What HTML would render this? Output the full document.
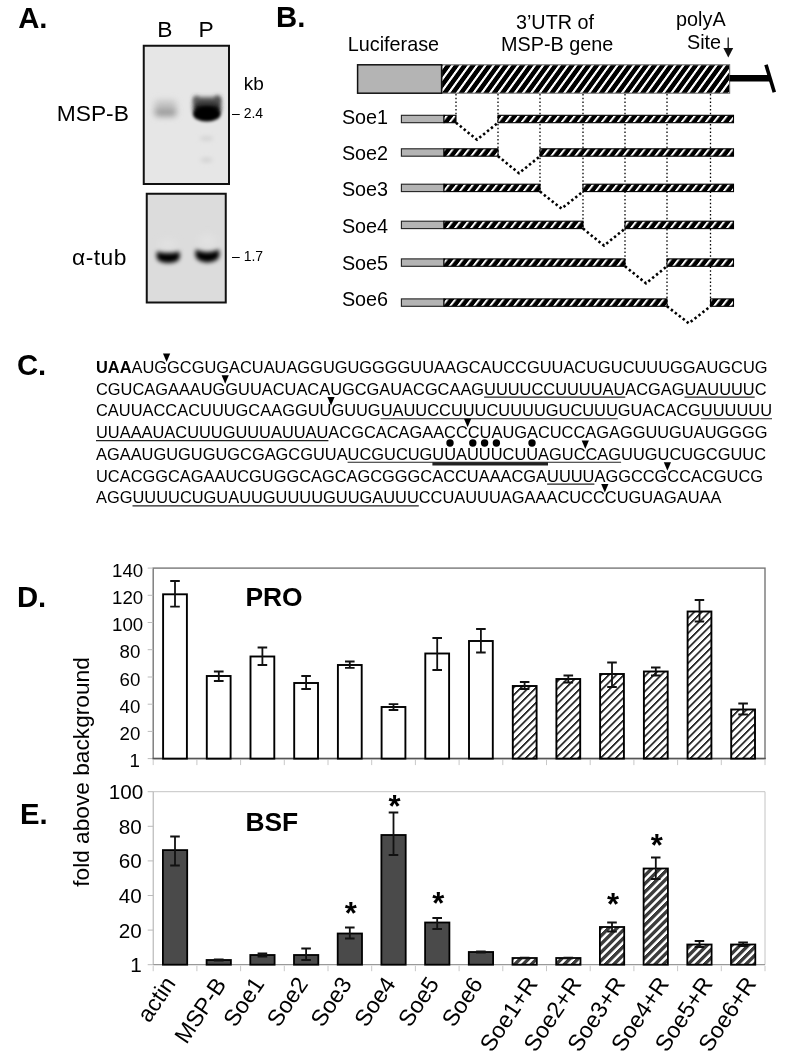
<!DOCTYPE html>
<html><head><meta charset="utf-8"><title>Figure</title>
<style>
html,body{margin:0;padding:0;background:#fff;}
svg{display:block;}
text{font-family:"Liberation Sans",sans-serif;fill:#000;}
</style></head><body>
<svg width="800" height="1058" viewBox="0 0 800 1058">
<defs>
<filter id="bl3" filterUnits="userSpaceOnUse" x="100" y="30" width="200" height="300"><feGaussianBlur stdDeviation="3"/></filter>
<filter id="bl15" filterUnits="userSpaceOnUse" x="100" y="30" width="200" height="300"><feGaussianBlur stdDeviation="1.6"/></filter>
<filter id="bl2" filterUnits="userSpaceOnUse" x="100" y="30" width="200" height="300"><feGaussianBlur stdDeviation="2.2"/></filter>
<filter id="bl5" filterUnits="userSpaceOnUse" x="100" y="30" width="200" height="300"><feGaussianBlur stdDeviation="4.5"/></filter>
<linearGradient id="gP" x1="0" y1="0" x2="0" y2="1"><stop offset="0" stop-color="#6a6a6a"/><stop offset="0.6" stop-color="#1c1c1c"/><stop offset="1" stop-color="#000"/></linearGradient>
<pattern id="hBig" width="8.25" height="40" patternUnits="userSpaceOnUse" patternTransform="translate(3.5 0) skewX(-36)">
<rect width="8.25" height="40" fill="#000"/><rect x="0" width="2.7" height="40" fill="#fff"/></pattern>
<pattern id="hSm" width="8" height="20" patternUnits="userSpaceOnUse" patternTransform="skewX(-38)">
<rect width="8" height="20" fill="#000"/><rect x="0" width="2.5" height="20" fill="#fff"/></pattern>
<pattern id="hBar" width="7.5" height="300" patternUnits="userSpaceOnUse" patternTransform="skewX(-45)">
<rect width="7.5" height="300" fill="#fff"/><rect x="0" width="2.5" height="300" fill="#2a2a2a"/></pattern>
<pattern id="hBarE" width="8.25" height="300" patternUnits="userSpaceOnUse" patternTransform="skewX(-45)">
<rect width="8.25" height="300" fill="#fff"/><rect x="0" width="4.8" height="300" fill="#3c3c3c"/></pattern>
</defs>
<rect width="800" height="1058" fill="#fff"/>

<text x="18.2" y="27.6" font-size="29.3" font-weight="bold">A.</text>
<text x="276" y="27.4" font-size="29.3" font-weight="bold">B.</text>
<text x="16.9" y="375.3" font-size="29.3" font-weight="bold">C.</text>
<text x="16.9" y="606.5" font-size="29.3" font-weight="bold">D.</text>
<text x="19.9" y="823.6" font-size="29.3" font-weight="bold">E.</text>
<g id="panelA">
<rect x="143.75" y="45.75" width="85.25" height="138.25" fill="#e6e6e6"/>
<rect x="154.5" y="100" width="22" height="10" rx="4" fill="#c6c6c6" filter="url(#bl3)"/>
<rect x="154.5" y="108" width="22" height="8.5" rx="4" fill="#9a9a9a" filter="url(#bl3)"/>
<rect x="193.4" y="97" width="27.4" height="16" rx="3" fill="url(#gP)" filter="url(#bl2)"/>
<ellipse cx="196.2" cy="99.5" rx="2.2" ry="3.6" fill="#555" filter="url(#bl2)"/>
<ellipse cx="217.6" cy="99.5" rx="2.6" ry="4" fill="#4a4a4a" filter="url(#bl2)"/>
<ellipse cx="206.8" cy="114" rx="13.8" ry="7.6" fill="#000" filter="url(#bl15)"/>
<ellipse cx="206.5" cy="138.5" rx="7" ry="2.6" fill="#d4d4d4" filter="url(#bl2)"/>
<ellipse cx="206.5" cy="160" rx="6" ry="2.6" fill="#d2d2d2" filter="url(#bl2)"/>
<rect x="143.75" y="45.75" width="85.25" height="138.25" fill="none" stroke="#111" stroke-width="2"/>
<rect x="146.75" y="193.75" width="79" height="108.75" fill="#dcdcdc"/>
<ellipse cx="168" cy="244" rx="9" ry="5" fill="#e1e1e1" filter="url(#bl3)"/>
<ellipse cx="207.5" cy="241" rx="9" ry="7" fill="#e1e1e1" filter="url(#bl3)"/>
<path d="M156.8 251.4 Q168.2 254.8 179.6 251.4 L179.8 257.4 Q178.4 262.6 168.2 263 Q158 262.6 156.6 257.4 Z" fill="#000" filter="url(#bl2)"/>
<path d="M195.6 249.6 Q207.4 254.8 219.2 249.6 L219.4 256 Q217.4 262 207.4 262.4 Q197.4 262 195.4 256 Z" fill="#000" filter="url(#bl2)"/>
<rect x="146.75" y="193.75" width="79" height="108.75" fill="none" stroke="#111" stroke-width="2"/>
<text x="157.3" y="37.4" font-size="22.8">B</text>
<text x="198.4" y="37.4" font-size="22.8">P</text>
<text x="56.7" y="121" font-size="22.8">MSP-B</text>
<text x="72" y="264.8" font-size="22.8" textLength="54.4" lengthAdjust="spacing">α-tub</text>
<text x="243.8" y="90.4" font-size="19">kb</text>
<text x="232" y="118" font-size="14">– 2.4</text>
<text x="232" y="261" font-size="14">– 1.7</text>
</g>
<g id="panelB">
<text x="347.8" y="50.7" font-size="19.8">Luciferase</text>
<text x="555" y="29" font-size="19.8" text-anchor="middle">3’UTR of</text>
<text x="557.2" y="51.2" font-size="19.8" text-anchor="middle">MSP-B gene</text>
<text x="676.1" y="26.4" font-size="19.8">polyA</text>
<text x="687" y="49" font-size="19.8">Site</text>
<path d="M728.2 37.4 V50" stroke="#111" stroke-width="1.3" fill="none"/><path d="M723.4 47.9 L728.3 57.6 L733.2 47.9 Z" fill="#111"/>
<rect x="441.6" y="64.8" width="288" height="28.4" fill="url(#hBig)" stroke="#777" stroke-width="1.2"/>
<rect x="357.6" y="64.8" width="84" height="28.4" fill="#b4b4b4" stroke="#111" stroke-width="1.5"/>
<path d="M729.5 78.3 H770" stroke="#000" stroke-width="6.6"/>
<path d="M766 64.8 L774.3 92.2" stroke="#000" stroke-width="3.6"/>
<path d="M456 94 V115.3" stroke="#000" stroke-width="1.3" stroke-dasharray="1.5 2.25" fill="none"/>
<path d="M498 94 V156.2" stroke="#000" stroke-width="1.3" stroke-dasharray="1.5 2.25" fill="none"/>
<path d="M540 94 V191.6" stroke="#000" stroke-width="1.3" stroke-dasharray="1.5 2.25" fill="none"/>
<path d="M583 94 V228.6" stroke="#000" stroke-width="1.3" stroke-dasharray="1.5 2.25" fill="none"/>
<path d="M625 94 V266.3" stroke="#000" stroke-width="1.3" stroke-dasharray="1.5 2.25" fill="none"/>
<path d="M667 94 V306.3" stroke="#000" stroke-width="1.3" stroke-dasharray="1.5 2.25" fill="none"/>
<path d="M710.5 94 V306.3" stroke="#000" stroke-width="1.3" stroke-dasharray="1.5 2.25" fill="none"/>
<text x="341.9" y="123.7" font-size="19.8">Soe1</text>
<rect x="401.4" y="115.3" width="42.6" height="7.4" fill="#b4b4b4" stroke="#222" stroke-width="1.1"/>
<rect x="444" y="115.3" width="12.0" height="7.4" fill="url(#hSm)" stroke="#000" stroke-width="1.1"/>
<rect x="498" y="115.3" width="235.5" height="7.4" fill="url(#hSm)" stroke="#000" stroke-width="1.1"/>
<path d="M456 122.7 L477.0 139.7 L498 122.7" stroke="#000" stroke-width="2.6" stroke-dasharray="2.4 2.6" fill="none"/>
<text x="341.9" y="159.7" font-size="19.8">Soe2</text>
<rect x="401.4" y="148.8" width="42.6" height="7.4" fill="#b4b4b4" stroke="#222" stroke-width="1.1"/>
<rect x="444" y="148.8" width="54.0" height="7.4" fill="url(#hSm)" stroke="#000" stroke-width="1.1"/>
<rect x="540" y="148.8" width="193.5" height="7.4" fill="url(#hSm)" stroke="#000" stroke-width="1.1"/>
<path d="M498 156.2 L519.0 173.2 L540 156.2" stroke="#000" stroke-width="2.6" stroke-dasharray="2.4 2.6" fill="none"/>
<text x="341.9" y="196" font-size="19.8">Soe3</text>
<rect x="401.4" y="184.2" width="42.6" height="7.4" fill="#b4b4b4" stroke="#222" stroke-width="1.1"/>
<rect x="444" y="184.2" width="96.0" height="7.4" fill="url(#hSm)" stroke="#000" stroke-width="1.1"/>
<rect x="583" y="184.2" width="150.5" height="7.4" fill="url(#hSm)" stroke="#000" stroke-width="1.1"/>
<path d="M540 191.6 L561.5 208.6 L583 191.6" stroke="#000" stroke-width="2.6" stroke-dasharray="2.4 2.6" fill="none"/>
<text x="341.9" y="233.2" font-size="19.8">Soe4</text>
<rect x="401.4" y="221.2" width="42.6" height="7.4" fill="#b4b4b4" stroke="#222" stroke-width="1.1"/>
<rect x="444" y="221.2" width="139.0" height="7.4" fill="url(#hSm)" stroke="#000" stroke-width="1.1"/>
<rect x="625" y="221.2" width="108.5" height="7.4" fill="url(#hSm)" stroke="#000" stroke-width="1.1"/>
<path d="M583 228.6 L604.0 245.6 L625 228.6" stroke="#000" stroke-width="2.6" stroke-dasharray="2.4 2.6" fill="none"/>
<text x="341.9" y="269.7" font-size="19.8">Soe5</text>
<rect x="401.4" y="258.9" width="42.6" height="7.4" fill="#b4b4b4" stroke="#222" stroke-width="1.1"/>
<rect x="444" y="258.9" width="181.0" height="7.4" fill="url(#hSm)" stroke="#000" stroke-width="1.1"/>
<rect x="667" y="258.9" width="66.5" height="7.4" fill="url(#hSm)" stroke="#000" stroke-width="1.1"/>
<path d="M625 266.3 L646.0 283.3 L667 266.3" stroke="#000" stroke-width="2.6" stroke-dasharray="2.4 2.6" fill="none"/>
<text x="341.9" y="306.2" font-size="19.8">Soe6</text>
<rect x="401.4" y="298.9" width="42.6" height="7.4" fill="#b4b4b4" stroke="#222" stroke-width="1.1"/>
<rect x="444" y="298.9" width="223.0" height="7.4" fill="url(#hSm)" stroke="#000" stroke-width="1.1"/>
<rect x="710.5" y="298.9" width="23.0" height="7.4" fill="url(#hSm)" stroke="#000" stroke-width="1.1"/>
<path d="M667 306.3 L688.8 323.3 L710.5 306.3" stroke="#000" stroke-width="2.6" stroke-dasharray="2.4 2.6" fill="none"/>
</g>
<g id="panelC" font-size="16.4">
<text id="seq1" x="96" y="372.7" textLength="671.5" lengthAdjust="spacing"><tspan font-weight="bold">UAA</tspan>AUGGCGUGACUAUAGGUGUGGGGUUAAGCAUCCGUUACUGUCUUUGGAUGCUG</text>
<text id="seq2" x="96" y="394.5" textLength="670.5" lengthAdjust="spacing">CGUCAGAAAUGGUUACUACAUGCGAUACGCAAGUUUUCCUUUUAUACGAGUAUUUUC</text>
<text id="seq3" x="96" y="416.2" textLength="676" lengthAdjust="spacing">CAUUACCACUUUGCAAGGUUGUUGUAUUCCUUUCUUUUGUCUUUGUACACGUUUUUU</text>
<text id="seq4" x="96" y="438.0" textLength="671.5" lengthAdjust="spacing">UUAAAUACUUUGUUUAUUAUACGCACAGAACCCUAUGACUCCAGAGGUUGUAUGGGG</text>
<text id="seq5" x="96" y="459.7" textLength="670" lengthAdjust="spacing">AGAAUGUGUGUGCGAGCGUUAUCGUCUGUUAUUUCUUAGUCCAGUUGUCUGCGUUC</text>
<text id="seq6" x="96" y="481.5" textLength="667" lengthAdjust="spacing">UCACGGCAGAAUCGUGGCAGCAGCGGGCACCUAAACGAUUUUAGGCCGCCACGUCG</text>
<text id="seq7" x="96" y="503.3" textLength="625.5" lengthAdjust="spacing">AGGUUUUCUGUAUUGUUUUGUUGAUUUCCUAUUUAGAAACUCCCUGUAGAUAA</text>
<path d="M484.1 397.1 H625.3" stroke="#222" stroke-width="1.1" fill="none"/>
<path d="M684.5 397.1 H754.7" stroke="#222" stroke-width="1.1" fill="none"/>
<path d="M380.6 418.8 H617.8" stroke="#222" stroke-width="1.1" fill="none"/>
<path d="M700.9 418.8 H772" stroke="#222" stroke-width="1.1" fill="none"/>
<path d="M96 440.6 H328.4" stroke="#222" stroke-width="1.1" fill="none"/>
<path d="M347.6 462.3 H621.1" stroke="#222" stroke-width="1.1" fill="none"/>
<path d="M432.4 463.9 H548" stroke="#222" stroke-width="3.4" fill="none"/>
<path d="M547.1 484.1 H594.4" stroke="#222" stroke-width="1.1" fill="none"/>
<path d="M132.5 505.9 H418.8" stroke="#222" stroke-width="1.1" fill="none"/>
<path d="M163.0 353.5 H170.2 L166.6 361.9 Z" fill="#000"/>
<path d="M221.6 375.3 H228.8 L225.2 383.7 Z" fill="#000"/>
<path d="M327.4 397.0 H334.6 L331 405.4 Z" fill="#000"/>
<path d="M464.0 418.8 H471.2 L467.6 427.2 Z" fill="#000"/>
<path d="M581.7 440.5 H588.9 L585.3 448.9 Z" fill="#000"/>
<path d="M663.8 462.3 H671.0 L667.4 470.7 Z" fill="#000"/>
<path d="M601.2 484.1 H608.4 L604.8 492.5 Z" fill="#000"/>
<circle cx="450" cy="443" r="3.7" fill="#000"/>
<circle cx="472.8" cy="443" r="3.7" fill="#000"/>
<circle cx="484.6" cy="443" r="3.7" fill="#000"/>
<circle cx="496.4" cy="443" r="3.7" fill="#000"/>
<circle cx="532" cy="443" r="3.7" fill="#000"/>
</g>
<g id="chartD">
<rect x="153.2" y="568.1" width="611.8" height="190.5" fill="#fff" stroke="#777" stroke-width="1.4"/>
<path d="M147.7 568.1 H153.2" stroke="#bbb" stroke-width="1"/>
<text x="143.2" y="576.7" font-size="18.7" text-anchor="end">140</text>
<path d="M147.7 595.3 H153.2" stroke="#bbb" stroke-width="1"/>
<text x="143.2" y="603.9" font-size="18.7" text-anchor="end">120</text>
<path d="M147.7 622.5 H153.2" stroke="#bbb" stroke-width="1"/>
<text x="143.2" y="631.1" font-size="18.7" text-anchor="end">100</text>
<path d="M147.7 649.7 H153.2" stroke="#bbb" stroke-width="1"/>
<text x="140.4" y="658.3" font-size="18.7" text-anchor="end">80</text>
<path d="M147.7 677.0 H153.2" stroke="#bbb" stroke-width="1"/>
<text x="140.4" y="685.6" font-size="18.7" text-anchor="end">60</text>
<path d="M147.7 704.2 H153.2" stroke="#bbb" stroke-width="1"/>
<text x="140.4" y="712.8" font-size="18.7" text-anchor="end">40</text>
<path d="M147.7 731.4 H153.2" stroke="#bbb" stroke-width="1"/>
<text x="140.4" y="740.0" font-size="18.7" text-anchor="end">20</text>
<path d="M147.7 758.6 H153.2" stroke="#bbb" stroke-width="1"/>
<text x="139.8" y="767.2" font-size="18.7" text-anchor="end">1</text>
<path d="M153.2 759.6 V765.1" stroke="#c8c8c8" stroke-width="1"/>
<path d="M196.9 759.6 V765.1" stroke="#c8c8c8" stroke-width="1"/>
<path d="M240.6 759.6 V765.1" stroke="#c8c8c8" stroke-width="1"/>
<path d="M284.3 759.6 V765.1" stroke="#c8c8c8" stroke-width="1"/>
<path d="M328.0 759.6 V765.1" stroke="#c8c8c8" stroke-width="1"/>
<path d="M371.7 759.6 V765.1" stroke="#c8c8c8" stroke-width="1"/>
<path d="M415.4 759.6 V765.1" stroke="#c8c8c8" stroke-width="1"/>
<path d="M459.1 759.6 V765.1" stroke="#c8c8c8" stroke-width="1"/>
<path d="M502.8 759.6 V765.1" stroke="#c8c8c8" stroke-width="1"/>
<path d="M546.5 759.6 V765.1" stroke="#c8c8c8" stroke-width="1"/>
<path d="M590.2 759.6 V765.1" stroke="#c8c8c8" stroke-width="1"/>
<path d="M633.9 759.6 V765.1" stroke="#c8c8c8" stroke-width="1"/>
<path d="M677.6 759.6 V765.1" stroke="#c8c8c8" stroke-width="1"/>
<path d="M721.3 759.6 V765.1" stroke="#c8c8c8" stroke-width="1"/>
<path d="M765.0 759.6 V765.1" stroke="#c8c8c8" stroke-width="1"/>
<path d="M152.5 758.6 H765.7" stroke="#555" stroke-width="1.5"/>
<rect x="163.1" y="594.3" width="23.8" height="164.3" fill="#fff" stroke="#000" stroke-width="1.9"/>
<path d="M175.0 581.0 V606.7 M170.2 581.0 H179.8 M170.2 606.7 H179.8" stroke="#111" stroke-width="1.8" fill="none"/>
<rect x="206.8" y="676" width="23.8" height="82.6" fill="#fff" stroke="#000" stroke-width="1.9"/>
<path d="M218.8 671.5 V681.0 M213.9 671.5 H223.6 M213.9 681.0 H223.6" stroke="#111" stroke-width="1.8" fill="none"/>
<rect x="250.5" y="656.5" width="23.8" height="102.1" fill="#fff" stroke="#000" stroke-width="1.9"/>
<path d="M262.4 647.5 V665.0 M257.6 647.5 H267.2 M257.6 665.0 H267.2" stroke="#111" stroke-width="1.8" fill="none"/>
<rect x="294.2" y="683" width="23.8" height="75.6" fill="#fff" stroke="#000" stroke-width="1.9"/>
<path d="M306.1 676.0 V689.0 M301.3 676.0 H310.9 M301.3 689.0 H310.9" stroke="#111" stroke-width="1.8" fill="none"/>
<rect x="337.9" y="665" width="23.8" height="93.6" fill="#fff" stroke="#000" stroke-width="1.9"/>
<path d="M349.8 661.5 V667.8 M345.0 661.5 H354.6 M345.0 667.8 H354.6" stroke="#111" stroke-width="1.8" fill="none"/>
<rect x="381.6" y="707" width="23.8" height="51.6" fill="#fff" stroke="#000" stroke-width="1.9"/>
<path d="M393.5 704.2 V710.0 M388.7 704.2 H398.3 M388.7 710.0 H398.3" stroke="#111" stroke-width="1.8" fill="none"/>
<rect x="425.3" y="653.5" width="23.8" height="105.1" fill="#fff" stroke="#000" stroke-width="1.9"/>
<path d="M437.2 638.0 V670.0 M432.4 638.0 H442.0 M432.4 670.0 H442.0" stroke="#111" stroke-width="1.8" fill="none"/>
<rect x="469.0" y="641" width="23.8" height="117.6" fill="#fff" stroke="#000" stroke-width="1.9"/>
<path d="M480.9 629.0 V652.5 M476.1 629.0 H485.7 M476.1 652.5 H485.7" stroke="#111" stroke-width="1.8" fill="none"/>
<rect x="512.8" y="686" width="23.8" height="72.6" fill="url(#hBar)" stroke="#000" stroke-width="1.9"/>
<path d="M524.6 682.0 V689.0 M519.9 682.0 H529.4 M519.9 689.0 H529.4" stroke="#111" stroke-width="1.8" fill="none"/>
<rect x="556.4" y="679" width="23.8" height="79.6" fill="url(#hBar)" stroke="#000" stroke-width="1.9"/>
<path d="M568.3 675.5 V682.5 M563.5 675.5 H573.1 M563.5 682.5 H573.1" stroke="#111" stroke-width="1.8" fill="none"/>
<rect x="600.1" y="674" width="23.8" height="84.6" fill="url(#hBar)" stroke="#000" stroke-width="1.9"/>
<path d="M612.0 662.5 V687.0 M607.2 662.5 H616.8 M607.2 687.0 H616.8" stroke="#111" stroke-width="1.8" fill="none"/>
<rect x="643.9" y="671.5" width="23.8" height="87.1" fill="url(#hBar)" stroke="#000" stroke-width="1.9"/>
<path d="M655.8 667.5 V675.5 M651.0 667.5 H660.5 M651.0 675.5 H660.5" stroke="#111" stroke-width="1.8" fill="none"/>
<rect x="687.6" y="611.5" width="23.8" height="147.1" fill="url(#hBar)" stroke="#000" stroke-width="1.9"/>
<path d="M699.5 600.0 V621.5 M694.7 600.0 H704.2 M694.7 621.5 H704.2" stroke="#111" stroke-width="1.8" fill="none"/>
<rect x="731.2" y="709.5" width="23.8" height="49.1" fill="url(#hBar)" stroke="#000" stroke-width="1.9"/>
<path d="M743.1 703.5 V714.5 M738.3 703.5 H747.9 M738.3 714.5 H747.9" stroke="#111" stroke-width="1.8" fill="none"/>
<text x="245.4" y="606.2" font-size="26.4" font-weight="bold">PRO</text>
</g>
<g id="chartE">
<path d="M153.2 791.7 H765 V964.7" fill="none" stroke="#c4c4c4" stroke-width="1"/>
<path d="M153.2 791.7 V964.7" fill="none" stroke="#aaa" stroke-width="1"/>
<path d="M153.2 964.7 H765" fill="none" stroke="#999" stroke-width="1.2"/>
<path d="M147.7 791.7 H153.2" stroke="#bbb" stroke-width="1"/>
<text x="143.3" y="799.2" font-size="20.7" text-anchor="end">100</text>
<path d="M147.7 826.3 H153.2" stroke="#bbb" stroke-width="1"/>
<text x="141.7" y="833.8" font-size="20.7" text-anchor="end">80</text>
<path d="M147.7 860.9 H153.2" stroke="#bbb" stroke-width="1"/>
<text x="141.7" y="868.4" font-size="20.7" text-anchor="end">60</text>
<path d="M147.7 895.5 H153.2" stroke="#bbb" stroke-width="1"/>
<text x="141.7" y="903.0" font-size="20.7" text-anchor="end">40</text>
<path d="M147.7 930.1 H153.2" stroke="#bbb" stroke-width="1"/>
<text x="141.7" y="937.6" font-size="20.7" text-anchor="end">20</text>
<path d="M147.7 964.7 H153.2" stroke="#bbb" stroke-width="1"/>
<text x="141.8" y="971.7" font-size="20.7" text-anchor="end">1</text>
<path d="M153.2 965.7 V971.2" stroke="#c8c8c8" stroke-width="1"/>
<path d="M196.9 965.7 V971.2" stroke="#c8c8c8" stroke-width="1"/>
<path d="M240.6 965.7 V971.2" stroke="#c8c8c8" stroke-width="1"/>
<path d="M284.3 965.7 V971.2" stroke="#c8c8c8" stroke-width="1"/>
<path d="M328.0 965.7 V971.2" stroke="#c8c8c8" stroke-width="1"/>
<path d="M371.7 965.7 V971.2" stroke="#c8c8c8" stroke-width="1"/>
<path d="M415.4 965.7 V971.2" stroke="#c8c8c8" stroke-width="1"/>
<path d="M459.1 965.7 V971.2" stroke="#c8c8c8" stroke-width="1"/>
<path d="M502.8 965.7 V971.2" stroke="#c8c8c8" stroke-width="1"/>
<path d="M546.5 965.7 V971.2" stroke="#c8c8c8" stroke-width="1"/>
<path d="M590.2 965.7 V971.2" stroke="#c8c8c8" stroke-width="1"/>
<path d="M633.9 965.7 V971.2" stroke="#c8c8c8" stroke-width="1"/>
<path d="M677.6 965.7 V971.2" stroke="#c8c8c8" stroke-width="1"/>
<path d="M721.3 965.7 V971.2" stroke="#c8c8c8" stroke-width="1"/>
<path d="M765.0 965.7 V971.2" stroke="#c8c8c8" stroke-width="1"/>
<rect x="162.9" y="850.1" width="24.3" height="114.6" fill="#4a4a4a" stroke="#000" stroke-width="1.8"/>
<path d="M175.0 836.5 V865.5 M170.2 836.5 H179.8 M170.2 865.5 H179.8" stroke="#111" stroke-width="1.8" fill="none"/>
<rect x="206.6" y="960" width="24.3" height="4.7" fill="#4a4a4a" stroke="#000" stroke-width="1.8"/>
<path d="M218.8 959.5 V960.5 M213.9 959.5 H223.6 M213.9 960.5 H223.6" stroke="#111" stroke-width="1.8" fill="none"/>
<rect x="250.3" y="955" width="24.3" height="9.7" fill="#4a4a4a" stroke="#000" stroke-width="1.8"/>
<path d="M262.4 953.5 V956.5 M257.6 953.5 H267.2 M257.6 956.5 H267.2" stroke="#111" stroke-width="1.8" fill="none"/>
<rect x="294.0" y="955" width="24.3" height="9.7" fill="#4a4a4a" stroke="#000" stroke-width="1.8"/>
<path d="M306.1 948.5 V960.0 M301.3 948.5 H310.9 M301.3 960.0 H310.9" stroke="#111" stroke-width="1.8" fill="none"/>
<rect x="337.7" y="933.5" width="24.3" height="31.2" fill="#4a4a4a" stroke="#000" stroke-width="1.8"/>
<path d="M349.8 927.5 V938.5 M345.0 927.5 H354.6 M345.0 938.5 H354.6" stroke="#111" stroke-width="1.8" fill="none"/>
<rect x="381.4" y="835" width="24.3" height="129.7" fill="#4a4a4a" stroke="#000" stroke-width="1.8"/>
<path d="M393.5 812.5 V855.0 M388.7 812.5 H398.3 M388.7 855.0 H398.3" stroke="#111" stroke-width="1.8" fill="none"/>
<rect x="425.1" y="922.5" width="24.3" height="42.2" fill="#4a4a4a" stroke="#000" stroke-width="1.8"/>
<path d="M437.2 918.0 V929.0 M432.4 918.0 H442.0 M432.4 929.0 H442.0" stroke="#111" stroke-width="1.8" fill="none"/>
<rect x="468.8" y="952" width="24.3" height="12.7" fill="#4a4a4a" stroke="#000" stroke-width="1.8"/>
<path d="M480.9 951.5 V952.5 M476.1 951.5 H485.7 M476.1 952.5 H485.7" stroke="#111" stroke-width="1.8" fill="none"/>
<rect x="512.5" y="958" width="24.3" height="6.7" fill="url(#hBarE)" stroke="#000" stroke-width="1.8"/>
<path d="M524.6 957.6 V958.4 M519.9 957.6 H529.4 M519.9 958.4 H529.4" stroke="#111" stroke-width="1.8" fill="none"/>
<rect x="556.2" y="958" width="24.3" height="6.7" fill="url(#hBarE)" stroke="#000" stroke-width="1.8"/>
<path d="M568.3 957.6 V958.4 M563.5 957.6 H573.1 M563.5 958.4 H573.1" stroke="#111" stroke-width="1.8" fill="none"/>
<rect x="599.9" y="927" width="24.3" height="37.7" fill="url(#hBarE)" stroke="#000" stroke-width="1.8"/>
<path d="M612.0 922.5 V931.5 M607.2 922.5 H616.8 M607.2 931.5 H616.8" stroke="#111" stroke-width="1.8" fill="none"/>
<rect x="643.6" y="868.5" width="24.3" height="96.2" fill="url(#hBarE)" stroke="#000" stroke-width="1.8"/>
<path d="M655.8 857.5 V879.0 M651.0 857.5 H660.5 M651.0 879.0 H660.5" stroke="#111" stroke-width="1.8" fill="none"/>
<rect x="687.3" y="944.5" width="24.3" height="20.2" fill="url(#hBarE)" stroke="#000" stroke-width="1.8"/>
<path d="M699.5 941.0 V947.0 M694.7 941.0 H704.2 M694.7 947.0 H704.2" stroke="#111" stroke-width="1.8" fill="none"/>
<rect x="731.0" y="944.5" width="24.3" height="20.2" fill="url(#hBarE)" stroke="#000" stroke-width="1.8"/>
<path d="M743.1 942.5 V946.0 M738.3 942.5 H747.9 M738.3 946.0 H747.9" stroke="#111" stroke-width="1.8" fill="none"/>
<text x="245.4" y="831" font-size="26.4" font-weight="bold">BSF</text>
<text x="350.8" y="924" font-size="31" font-weight="bold" text-anchor="middle">*</text>
<text x="394.5" y="817.1" font-size="31" font-weight="bold" text-anchor="middle">*</text>
<text x="438.2" y="913.5" font-size="31" font-weight="bold" text-anchor="middle">*</text>
<text x="613.0" y="914.8" font-size="31" font-weight="bold" text-anchor="middle">*</text>
<text x="656.8" y="856" font-size="31" font-weight="bold" text-anchor="middle">*</text>
<text x="176.5" y="983.5" font-size="23" text-anchor="end" transform="rotate(-56 176.5 983.5)">actin</text>
<text x="227.2" y="984.6" font-size="23" text-anchor="end" transform="rotate(-56 227.2 984.6)">MSP-B</text>
<text x="265.2" y="983.8" font-size="23" text-anchor="end" transform="rotate(-56 265.2 983.8)">Soe1</text>
<text x="308.9" y="983.8" font-size="23" text-anchor="end" transform="rotate(-56 308.9 983.8)">Soe2</text>
<text x="352.6" y="983.8" font-size="23" text-anchor="end" transform="rotate(-56 352.6 983.8)">Soe3</text>
<text x="396.3" y="983.8" font-size="23" text-anchor="end" transform="rotate(-56 396.3 983.8)">Soe4</text>
<text x="440.0" y="983.8" font-size="23" text-anchor="end" transform="rotate(-56 440.0 983.8)">Soe5</text>
<text x="483.7" y="983.8" font-size="23" text-anchor="end" transform="rotate(-56 483.7 983.8)">Soe6</text>
<text x="538.6" y="983.8" font-size="23" text-anchor="end" transform="rotate(-56 538.6 983.8)">Soe1+R</text>
<text x="582.3" y="983.8" font-size="23" text-anchor="end" transform="rotate(-56 582.3 983.8)">Soe2+R</text>
<text x="626.0" y="983.8" font-size="23" text-anchor="end" transform="rotate(-56 626.0 983.8)">Soe3+R</text>
<text x="669.8" y="983.8" font-size="23" text-anchor="end" transform="rotate(-56 669.8 983.8)">Soe4+R</text>
<text x="713.5" y="983.8" font-size="23" text-anchor="end" transform="rotate(-56 713.5 983.8)">Soe5+R</text>
<text x="757.1" y="983.8" font-size="23" text-anchor="end" transform="rotate(-56 757.1 983.8)">Soe6+R</text>
<text font-size="22.7" text-anchor="middle" transform="translate(89 772) rotate(-90)">fold above background</text>
</g>
</svg></body></html>
